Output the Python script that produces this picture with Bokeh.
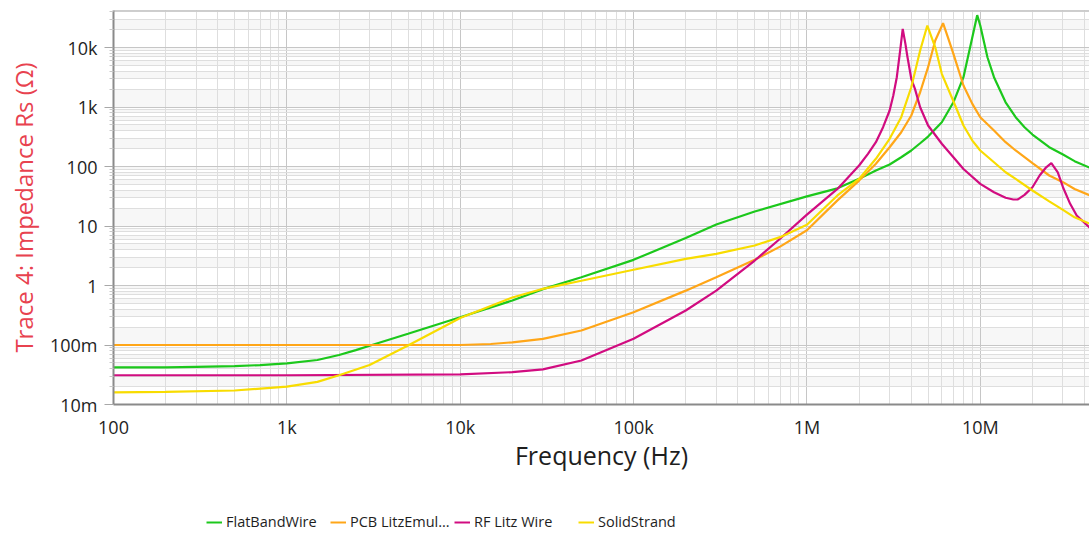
from bokeh.plotting import figure
from bokeh.layouts import column
from bokeh.models import Range1d, FixedTicker, Legend, LegendItem, Span
from bokeh.embed import file_html
from bokeh.resources import INLINE

# ---------------- data ----------------
flat_f = [100, 200, 300, 500, 700, 1e3, 1.5e3, 2e3, 2.5e3, 3e3, 5e3, 1e4, 2e4, 3e4,
          5e4, 1e5, 2e5, 3e5, 5e5, 1e6, 1.5e6, 2e6, 2.5e6, 3e6, 3.5e6, 4e6, 4.5e6,
          5e6, 6e6, 7e6, 8e6, 9e6, 9.6e6, 1e7, 1.1e7, 1.2e7, 1.4e7, 1.6e7, 1.8e7,
          2e7, 2.5e7, 3e7, 3.5e7, 4.3e7]
flat_z = [0.042, 0.042, 0.043, 0.044, 0.046, 0.049, 0.056, 0.068, 0.082, 0.097, 0.155,
          0.293, 0.56, 0.87, 1.38, 2.7, 6.3, 10.6, 17.5, 31.5, 43, 62, 86, 108, 143,
          186, 246, 319, 556, 1200, 3170, 14900, 35000, 23400, 6870, 3170, 1200, 674,
          458, 345, 211, 159, 123, 95]

pcb_f = [100, 1e3, 1e4, 1.5e4, 2e4, 3e4, 5e4, 1e5, 2e5, 3e5, 5e5, 7e5, 1e6, 1.5e6,
         2e6, 2.5e6, 3e6, 3.5e6, 4e6, 4.5e6, 5e6, 5.5e6, 6.1e6, 6.5e6, 7e6, 8e6, 9e6,
         1e7, 1.2e7, 1.4e7, 1.6e7, 2e7, 2.5e7, 3e7, 3.5e7, 4.3e7]
pcb_z = [0.1, 0.1, 0.1, 0.104, 0.111, 0.127, 0.175, 0.356, 0.82, 1.38, 2.7, 4.5, 8.5,
         27, 58, 111, 211, 377, 720, 1770, 4670, 13100, 25600, 14900, 7830, 2300, 1130,
         674, 403, 256, 186, 114, 70.6, 54.6, 42, 32.6]

rf_f = [100, 1e3, 1e4, 2e4, 3e4, 5e4, 1e5, 2e5, 3e5, 5e5, 7e5, 1e6, 1.5e6, 2e6,
        2.25e6, 2.5e6, 2.75e6, 3e6, 3.15e6, 3.3e6, 3.45e6, 3.57e6, 3.7e6, 3.8e6, 4e6,
        4.2e6, 4.5e6, 5e6, 6e6, 7e6, 8e6, 1e7, 1.2e7, 1.4e7, 1.55e7, 1.65e7, 1.8e7,
        2e7, 2.2e7, 2.4e7, 2.57e7, 2.8e7, 3e7, 3.3e7, 3.6e7, 4.3e7]
rf_z = [0.031, 0.031, 0.032, 0.035, 0.039, 0.055, 0.127, 0.38, 0.82, 2.63, 6.1, 15.5,
        42, 104, 163, 256, 458, 873, 1560, 3170, 8900, 20600, 11500, 7000, 2980, 2020,
        990, 489, 241, 143, 91, 51, 37, 29.8, 27.9, 28, 33.4, 44.9, 70.6, 97, 114, 80,
        44.9, 23.6, 15, 9.3]

solid_f = [100, 200, 500, 1e3, 1.5e3, 2e3, 3e3, 5e3, 1e4, 2e4, 3e4, 5e4, 1e5, 2e5,
           3e5, 5e5, 7e5, 1e6, 1.5e6, 2e6, 2.5e6, 3e6, 3.5e6, 4e6, 4.5e6, 4.95e6,
           5.5e6, 6e6, 7e6, 8e6, 9e6, 1e7, 1.2e7, 1.4e7, 1.6e7, 2e7, 2.5e7, 3e7,
           3.5e7, 4.3e7]
solid_z = [0.016, 0.0163, 0.0172, 0.020, 0.024, 0.031, 0.046, 0.098, 0.285, 0.63, 0.88,
           1.2, 1.84, 2.81, 3.41, 4.7, 6.5, 10.5, 32.6, 62, 135, 292, 674, 2150, 8900,
           23400, 10100, 3610, 1250, 489, 273, 186, 118, 80, 62, 39.5, 26, 18.7, 14,
           10.9]

series_names = ["FlatBandWire", "PCB LitzEmul...", "RF Litz Wire", "SolidStrand"]
series_colors = ["#1cc81c", "#ffa618", "#d10c80", "#f8dc00"]

x_ticks = [1e2, 1e3, 1e4, 1e5, 1e6, 1e7]
x_tick_labels = ["100", "1k", "10k", "100k", "1M", "10M"]
y_ticks = [0.01, 0.1, 1, 10, 100, 1e3, 1e4]
y_tick_labels = ["10m", "100m", "1", "10", "100", "1k", "10k"]

X_END = 4.267e7
Y_END = 41900

# ---------------- main figure ----------------
p = figure(width=1089, height=503, x_axis_type="log", y_axis_type="log",
           x_range=Range1d(100, X_END), y_range=Range1d(0.01, Y_END),
           output_backend="svg", toolbar_location=None,
           min_border_left=113, min_border_right=0, min_border_top=10,
           min_border_bottom=99)
p.outline_line_color = None
p.background_fill_color = "white"
p.border_fill_color = "white"

# alternating horizontal bands between consecutive grid lines
lines = []
for d in range(-2, 5):
    for m in range(1, 10):
        lines.append((m * 10.0 ** d, d, m - 1))
lines.append((1e5, 5, 0))
b_bot, b_top = [], []
for k in range(len(lines) - 1):
    v, d, i = lines[k]
    if (9 * d + i) % 2 == 1:
        b_bot.append(v)
        b_top.append(min(lines[k + 1][0], Y_END))
p.quad(left=100, right=X_END, bottom=b_bot, top=b_top, fill_color="#f7f7f7",
       line_color=None, level="image")

def minors(ticks, lo, hi):
    out = []
    for t in ticks + [ticks[0] / 10]:
        for m in range(2, 10):
            v = t * m
            if lo <= v <= hi:
                out.append(v)
    return sorted(out)

p.xaxis.ticker = FixedTicker(ticks=x_ticks, minor_ticks=minors(x_ticks, 100, X_END))
p.yaxis.ticker = FixedTicker(ticks=y_ticks, minor_ticks=minors(y_ticks, 0.01, Y_END))
p.xaxis.major_label_overrides = dict(zip(x_ticks, x_tick_labels))
p.yaxis.major_label_overrides = dict(zip(y_ticks, y_tick_labels))

for g in (p.xgrid, p.ygrid):
    g.grid_line_color = "#c6c6c6"
    g.grid_line_width = 1
    g.minor_grid_line_color = "#dedede"
    g.minor_grid_line_width = 1

FONT = "Open Sans"
for ax in (p.xaxis, p.yaxis):
    ax.axis_line_color = "#8a8a8a"
    ax.axis_line_width = 2
    ax.major_label_text_font = FONT
    ax.major_label_text_font_size = "18px"
    ax.major_label_text_color = "#1e1e1e"
    ax.axis_label_text_font = FONT
    ax.axis_label_text_font_style = "normal"

p.xaxis.major_tick_out = 0
p.xaxis.major_tick_in = 0
p.xaxis.minor_tick_out = 0
p.xaxis.minor_tick_in = 0
p.xaxis.major_tick_line_color = None
p.xaxis.minor_tick_line_color = None
p.xaxis.major_label_standoff = 10
p.xaxis.axis_label = "Frequency (Hz)"
p.xaxis.axis_label_text_color = "#1e1e1e"
p.xaxis.axis_label_text_font_size = "25px"
p.xaxis.axis_label_standoff = -4

p.yaxis.major_tick_out = 9
p.yaxis.major_tick_in = 0
p.yaxis.minor_tick_out = 4
p.yaxis.minor_tick_in = 0
p.yaxis.major_tick_line_color = "#a8a8a8"
p.yaxis.minor_tick_line_color = "#c8c8c8"
p.yaxis.major_label_standoff = 7
p.yaxis.axis_label = "Trace 4: Impedance Rs (Ω)"
p.yaxis.axis_label_text_color = "#e8424f"
p.yaxis.axis_label_text_font_size = "24px"
p.yaxis.axis_label_standoff = 7

p.add_layout(Span(location=Y_END, dimension="width", line_color="#a0a0a0",
                  line_width=1.5))

for name, col, fx, zy in zip(series_names, series_colors,
                             [flat_f, pcb_f, rf_f, solid_f],
                             [flat_z, pcb_z, rf_z, solid_z]):
    p.line(fx, zy, line_color=col, line_width=2.2)

# ---------------- legend strip ----------------
lg = figure(width=1089, height=30, x_range=Range1d(0, 1), y_range=Range1d(0, 1),
            output_backend="svg", toolbar_location=None,
            x_axis_location=None, y_axis_location=None,
            min_border=0, min_border_left=0, min_border_right=0,
            min_border_top=0, min_border_bottom=0)
lg.outline_line_color = None
lg.xgrid.visible = False
lg.ygrid.visible = False
lg.border_fill_color = "white"
items = []
for name, col in zip(series_names, series_colors):
    r = lg.line([0, 1], [5, 5], line_color=col, line_width=2)
    items.append(LegendItem(label=name, renderers=[r]))
legend = Legend(items=items, orientation="horizontal", location=(93, 2),
                padding=0, margin=0, spacing=4, glyph_width=16, glyph_height=16,
                label_standoff=4, label_width=100, label_height=16,
                label_text_font=FONT, label_text_font_size="14.5px",
                label_text_color="#1e1e1e", border_line_color=None,
                background_fill_alpha=0)
lg.add_layout(legend)

layout = column(p, lg, spacing=0)
open("out.html", "w").write(file_html(layout, INLINE))
